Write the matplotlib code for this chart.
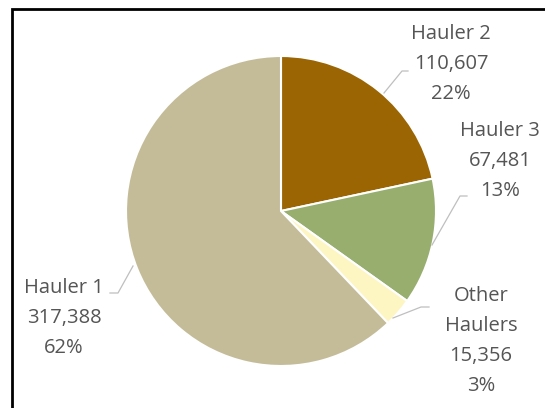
import matplotlib
matplotlib.use('Agg')
import matplotlib.pyplot as plt
from matplotlib.patches import Rectangle

# data, in drawing order (clockwise from 12 o'clock)
haulers = ['Hauler 2', 'Hauler 3', 'Other\nHaulers', 'Hauler 1']
tons = [110607, 67481, 15356, 317388]
colors = ['#9a6502', '#97ae6f', '#fdf6c3', '#c4bc98']

total = float(sum(tons))

fig = plt.figure(figsize=(5.45, 4.08), dpi=100)
ax = fig.add_axes([0, 0, 1, 1])

# pie in pixel-like coords (y down -> counterclock True looks clockwise)
cx, cy, r = 281, 211, 155
ax.pie(tons, colors=colors, startangle=-90, counterclock=True,
       center=(cx, cy), radius=r, frame=True,
       wedgeprops={'edgecolor': 'white', 'linewidth': 1.5})
ax.set_xlim(0, 545)
ax.set_ylim(408, 0)
ax.set_aspect('equal')
ax.axis('off')

# label blocks: (center x, top y)
label_pos = [(451, 24), (500, 121), (481, 286), (64, 278)]
leaders = [
    [(384, 93), (402, 71), (408, 71)],
    [(432, 245), (460, 196), (467, 196)],
    [(393, 318), (421, 307), (429, 307)],
    [(133, 266), (118, 293), (110, 293)],
]
for name, v, (lx, ly), pts in zip(haulers, tons, label_pos, leaders):
    pct = round(100 * v / total)
    txt = '%s\n%s\n%d%%' % (name, format(v, ','), pct)
    ax.text(lx, ly, txt, ha='center', va='top', fontsize=14.5,
            color='#555555', family='Open Sans', linespacing=1.66)
    xs = [p[0] for p in pts]
    ys = [p[1] for p in pts]
    ax.plot(xs, ys, color='#bfbfbf', lw=0.9)

# chart border (cut at right/bottom)
fig.patches.append(Rectangle((12 / 545, -0.05), 1.0, 1 - 9 / 408 + 0.05,
                             transform=fig.transFigure, fill=False,
                             edgecolor='black', lw=2))

fig.savefig('out.png', dpi=100)
